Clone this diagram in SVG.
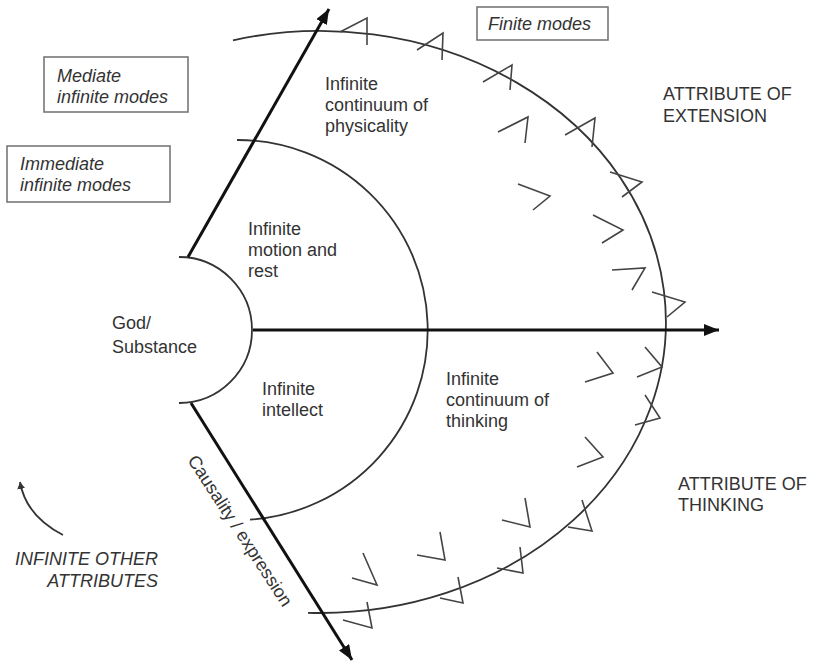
<svg xmlns="http://www.w3.org/2000/svg" width="813" height="662" viewBox="0 0 813 662">
<defs>
<marker id="ah" markerUnits="userSpaceOnUse" markerWidth="16" markerHeight="12" refX="15" refY="6" orient="auto">
<path d="M0,0 L15,6 L0,12 z" fill="#111"/>
</marker>
<marker id="ahs" markerUnits="userSpaceOnUse" markerWidth="8" markerHeight="8" refX="7" refY="4" orient="auto">
<path d="M0,0 L7,4 L0,8 z" fill="#333"/>
</marker>
<style>
text{font-family:"Liberation Sans",Arial,sans-serif;font-size:18px;fill:#333}
.it{font-style:italic}
.box{fill:none;stroke:#777;stroke-width:1.6}
.arc{fill:none;stroke:#333;stroke-width:1.8}
.mk{fill:none;stroke:#444;stroke-width:1.6;stroke-linejoin:miter}
.arrow{stroke:#111;stroke-width:3;fill:none;marker-end:url(#ah)}
</style>
</defs>
<rect width="813" height="662" fill="#fff"/>

<g id="arcs">
<path class="arc" d="M179 257 A73 73 0 0 1 179 403"/>
<path class="arc" d="M237 140 A190 190 0 0 1 250 519.6"/>
<path class="arc" d="M233 40.3 A346 291 0 1 1 308 612.8"/>
</g>

<g id="finite-mode-marks">
<polyline class="mk" points="340,32 367,18 367,45"/>
<polyline class="mk" points="417,50 443,33 442,60"/>
<polyline class="mk" points="483,82 512,65 510,90"/>
<polyline class="mk" points="498,132 528,117 525,143"/>
<polyline class="mk" points="565,135 595,118 592,147"/>
<polyline class="mk" points="518,184 550,196 533,210"/>
<polyline class="mk" points="610,172 642,182 622,197"/>
<polyline class="mk" points="593,215 623,230 602,243"/>
<polyline class="mk" points="612,270 645,268 632,290"/>
<polyline class="mk" points="652,292 685,302 667,317"/>
<polyline class="mk" points="597,352 613,373 585,382"/>
<polyline class="mk" points="645,347 662,367 637,377"/>
<polyline class="mk" points="645,395 660,418 635,425"/>
<polyline class="mk" points="585,437 603,457 577,467"/>
<polyline class="mk" points="582,500 592,531 568,527"/>
<polyline class="mk" points="525,498 530,527 502,520"/>
<polyline class="mk" points="520,547 523,573 497,568"/>
<polyline class="mk" points="440,532 445,560 417,555"/>
<polyline class="mk" points="458,577 463,603 440,598"/>
<polyline class="mk" points="363,553 377,585 352,578"/>
<polyline class="mk" points="367,602 372,628 343,620"/>
</g>

<g id="connectors">
<line class="arrow" x1="188" y1="257" x2="329" y2="9"/>
<line class="arrow" x1="253" y1="330" x2="719" y2="330"/>
<line class="arrow" x1="191" y1="403" x2="352" y2="660"/>
<path d="M63 535 Q26 516 20 482" fill="none" stroke="#333" stroke-width="1.8" marker-end="url(#ahs)"/>
</g>

<g id="god-substance">
<text x="112" y="329">God/</text>
<text x="112" y="353">Substance</text>
</g>

<g id="motion-rest">
<text x="248" y="235">Infinite</text>
<text x="248" y="256">motion and</text>
<text x="248" y="277">rest</text>
</g>

<g id="intellect">
<text x="262" y="395">Infinite</text>
<text x="262" y="416">intellect</text>
</g>

<g id="physicality">
<text x="325" y="90">Infinite</text>
<text x="325" y="111">continuum of</text>
<text x="325" y="132">physicality</text>
</g>

<g id="thinking">
<text x="446" y="385">Infinite</text>
<text x="446" y="406">continuum of</text>
<text x="446" y="427">thinking</text>
</g>

<g id="mediate">
<rect class="box" x="44" y="57" width="144" height="55"/>
<text class="it" x="57" y="82">Mediate</text>
<text class="it" x="57" y="103">infinite modes</text>
</g>

<g id="immediate">
<rect class="box" x="7" y="146" width="163" height="56"/>
<text class="it" x="20" y="170">Immediate</text>
<text class="it" x="20" y="191">infinite modes</text>
</g>

<g id="finite">
<rect class="box" x="477" y="7" width="131" height="33"/>
<text class="it" x="488" y="30">Finite modes</text>
</g>

<g id="extension">
<text x="663" y="100">ATTRIBUTE OF</text>
<text x="663" y="122">EXTENSION</text>
</g>

<g id="attr-thinking">
<text x="678" y="490">ATTRIBUTE OF</text>
<text x="678" y="511">THINKING</text>
</g>

<g id="other-attributes">
<text class="it" x="158" y="565" text-anchor="end">INFINITE OTHER</text>
<text class="it" x="158" y="587" text-anchor="end">ATTRIBUTES</text>
</g>

<g id="causality">
<text transform="translate(235,534) rotate(57)" text-anchor="middle">Causality / expression</text>
</g>
</svg>
